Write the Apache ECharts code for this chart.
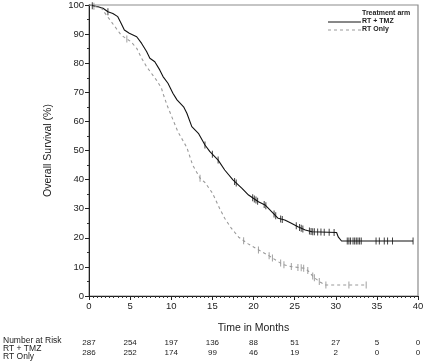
<!DOCTYPE html>
<html><head><meta charset="utf-8">
<script src="https://cdn.jsdelivr.net/npm/echarts@6/dist/echarts.min.js"></script>
<style>html,body{margin:0;padding:0;background:#fff}#c{width:432px;height:363px}</style>
</head><body><div id="c"></div>
<script>
// RT + TMZ Kaplan-Meier estimates (months, % surviving)
const tmzTime = [0,1.1,1.7,2.3,2.9,3.5,3.9,4.3,4.9,5.8,6.4,7.0,7.4,8.0,8.6,9.0,9.6,10.2,10.7,11.5,11.9,12.5,13.3,14.1,14.7,15.7,16.5,17.5,18.6,19.4,20.6,21.4,22.2,23.0,23.8,24.6,25.4,26.3,27.1,30.1,30.3,30.7,39.4];
const tmzSurv = [100,99.4,98.9,97.7,97.1,96.0,93.7,91.4,90.3,89.1,86.8,84.0,81.7,80.5,77.7,75.4,73.1,69.7,67.4,65.0,62.8,58.2,55.9,51.9,49.6,46.7,43.3,39.9,37.0,34.7,32.4,31.3,29.0,26.7,26.1,25.0,23.8,22.7,22.1,21.8,20.3,18.9,18.9];
// RT only
const rtTime = [0,0.6,1.5,2.1,2.7,3.3,3.9,4.5,5.1,5.8,6.4,7.0,7.6,8.2,8.8,9.0,9.5,10.8,11.9,12.6,13.5,14.1,15.0,15.9,16.5,17.3,18.2,19.3,20.5,21.8,23.0,23.6,24.6,26.3,26.8,27.3,28.1,28.7,33.7];
const rtSurv = [100,99.6,98.9,96.6,94.3,92.0,89.7,88.5,87.4,85.1,81.7,78.8,76.5,74.2,71.5,69.6,65.5,56.5,51.0,45.0,40.5,39.0,35.4,30.0,26.7,23.3,20.2,18.0,16.0,14.0,11.8,10.8,10.1,9.5,8.2,6.5,4.8,3.8,3.8];
// censoring times
const tmzCens = [0.4,2.3,14.1,15.0,15.7,17.7,17.9,19.9,20.1,20.3,20.5,21.3,21.5,22.5,22.7,23.3,23.5,25.2,25.6,25.8,26.0,26.8,27.0,27.2,27.4,27.8,28.2,28.6,29.2,29.8,31.4,31.6,31.8,32.1,32.3,32.5,32.7,32.9,33.1,34.9,35.3,35.9,36.3,36.9,39.4];
const rtCens = [0.6,4.6,13.5,18.8,20.6,21.9,22.3,23.3,23.7,24.6,25.4,25.8,26.1,26.6,27.2,27.4,28.0,28.8,31.6,33.7];
// number at risk
const riskTimes = [0,5,10,15,20,25,30,35,40];
const riskTMZ = [287,254,197,136,88,51,27,5,0];
const riskRT = [286,252,174,99,46,19,2,0,0];
const seriesNames = ['RT + TMZ','RT Only'];

function interp(ts, ss, t){
  for(let i=1;i<ts.length;i++){
    if(t<=ts[i]){const f=(t-ts[i-1])/(ts[i]-ts[i-1]||1);return ss[i-1]+f*(ss[i]-ss[i-1]);}
  }
  return ss[ss.length-1];
}
const zip=(a,b)=>a.map((v,i)=>[v,b[i]]);
const FONT='"Liberation Sans", Arial, sans-serif';
const chart = echarts.init(document.getElementById('c'));
function riskAxis(arr, off){
  return {type:'value',min:0,max:40,interval:5,position:'bottom',offset:off,gridIndex:0,
    axisLine:{show:false},axisTick:{show:false},splitLine:{show:false},
    axisLabel:{margin:0,fontSize:8,color:'#222',fontFamily:FONT,showMaxLabel:true,
      formatter:v=>{const i=riskTimes.indexOf(v);return i>=0?String(arr[i]):'';}}};
}
const legFont = 'bold 7px '+FONT;
chart.setOption({
  animation:false,
  textStyle:{fontFamily:FONT},
  grid:{left:89,right:14,top:5,bottom:67,show:true,borderColor:'#8c8c8c',borderWidth:1.2},
  graphic:[
    {type:'text',left:362,top:10,style:{text:'Treatment arm',font:legFont,fill:'#222'}},
    {type:'line',shape:{x1:328,y1:22,x2:361,y2:22},style:{stroke:'#111',lineWidth:1}},
    {type:'text',left:362,top:18,style:{text:seriesNames[0],font:legFont,fill:'#222'}},
    {type:'line',shape:{x1:328,y1:30,x2:361,y2:30},style:{stroke:'#9a9a9a',lineWidth:1,lineDash:[3,3]}},
    {type:'text',left:362,top:26,style:{text:seriesNames[1],font:legFont,fill:'#222'}},
    {type:'text',left:3,top:336,style:{text:'Number at Risk',fontSize:8.5,fill:'#222',fontFamily:FONT}},
    {type:'text',left:3,top:344,style:{text:seriesNames[0],fontSize:8.5,fill:'#222',fontFamily:FONT}},
    {type:'text',left:3,top:352,style:{text:seriesNames[1],fontSize:8.5,fill:'#222',fontFamily:FONT}}
  ],
  xAxis:[
    {type:'value',min:0,max:40,interval:5,name:'Time in Months',nameLocation:'middle',nameGap:27,
     nameTextStyle:{fontSize:10.5,color:'#222'},
     axisLine:{lineStyle:{color:'#222',width:1}},
     axisTick:{length:4,lineStyle:{color:'#222'}},
     minorTick:{show:true,splitNumber:10,length:2,lineStyle:{color:'#333'}},
     splitLine:{show:false},
     axisLabel:{fontSize:9.5,color:'#222',margin:5}},
    riskAxis(riskTMZ,43),
    riskAxis(riskRT,53)
  ],
  yAxis:{type:'value',min:0,max:100,interval:10,name:'Overall Survival (%)',nameLocation:'middle',nameGap:35,
    nameTextStyle:{fontSize:10.5,color:'#222'},
    axisLine:{show:true,lineStyle:{color:'#222',width:1}},
    axisTick:{show:true,length:4,lineStyle:{color:'#222'}},
    minorTick:{show:true,splitNumber:2,length:2,lineStyle:{color:'#333'}},
    splitLine:{show:false},
    axisLabel:{fontSize:9.5,color:'#222',margin:5}},
  series:[
    {name:seriesNames[0],type:'line',symbol:'none',data:zip(tmzTime,tmzSurv),
     lineStyle:{color:'#111',width:1.1},itemStyle:{color:'#111'}},
    {name:seriesNames[1],type:'line',symbol:'none',data:zip(rtTime,rtSurv),
     lineStyle:{color:'#9a9a9a',width:1.1,type:[3,3]},itemStyle:{color:'#9a9a9a'}},
    {name:'cTMZ',type:'scatter',symbol:'rect',symbolSize:[1,7],
     data:tmzCens.map(t=>[t,interp(tmzTime,tmzSurv,t)]),itemStyle:{color:'#111'}},
    {name:'cRT',type:'scatter',symbol:'rect',symbolSize:[1,7],
     data:rtCens.map(t=>[t,interp(rtTime,rtSurv,t)]),itemStyle:{color:'#8a8a8a'}}
  ]
});
</script></body></html>
